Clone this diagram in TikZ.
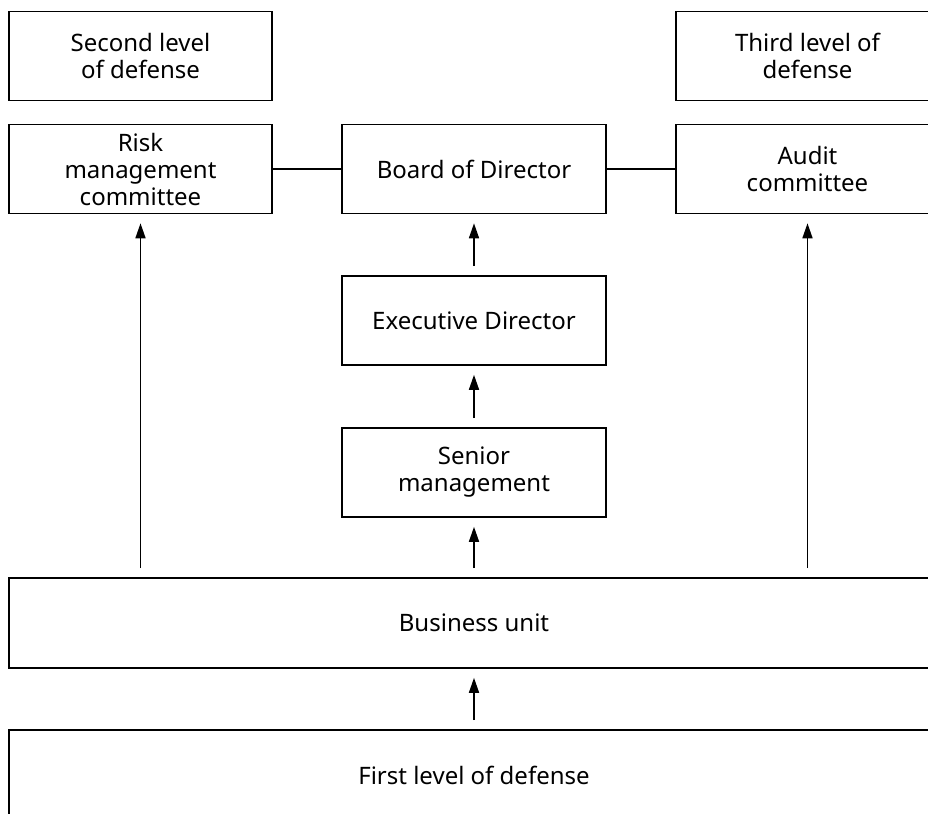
\documentclass[tikz,border=0pt]{standalone}
\usepackage{fontspec}
\setmainfont{Noto Sans}
\usetikzlibrary{arrows.meta}

\begin{document}
\begin{tikzpicture}[x=0.5pt, y=-0.5pt, line width=0.8pt,
        >={Triangle[length=7.5pt, width=5pt]},
        box/.style={rectangle, draw, fill=white, align=center, inner sep=2pt,
            minimum width=131.5pt, minimum height=44.5pt,
            font=\fontsize{12}{13.5}\selectfont},
        widebox/.style={box, minimum width=465pt, minimum height=45pt},
        link/.style={->, shorten <=4.5pt, shorten >=4.5pt}]
        \useasboundingbox (0, 0) rectangle (928, 814);
        \clip (0, 0) rectangle (928, 814);
        % top row
        \node at (140.5, 56) (second)[box] {Second level\\of defense};
        \node at (807.5, 56) (third)[box] {Third level of\\defense};
        \node at (140.5, 169) (risk)[box] {Risk\\management\\committee};
        \node at (474, 169) (board)[box, minimum width=132pt] {Board of Director};
        \node at (807.5, 169) (audit)[box] {Audit\\committee};
        \draw (risk.east) -- (board.west);
        \draw (board.east) -- (audit.west);
        % middle column
        \node at (474, 320.5) (exec)[box, minimum width=132pt] {Executive Director};
        \node at (474, 472.5) (senior)[box, minimum width=132pt] {Senior\\management};
        \node at (474, 623) (unit)[widebox] {Business unit};
        \node at (474, 775) (first)[widebox] {First level of defense};
        % arrows
        \draw [link] (exec.north) -- (board.south);
        \draw [link] (senior.north) -- (exec.south);
        \draw [link] (unit.north) -- (senior.south);
        \draw [link] (first.north) -- (unit.south);
        \draw [link] (unit.north -| risk.south) -- (risk.south);
        \draw [link] (unit.north -| audit.south) -- (audit.south);
\end{tikzpicture}
\end{document}
